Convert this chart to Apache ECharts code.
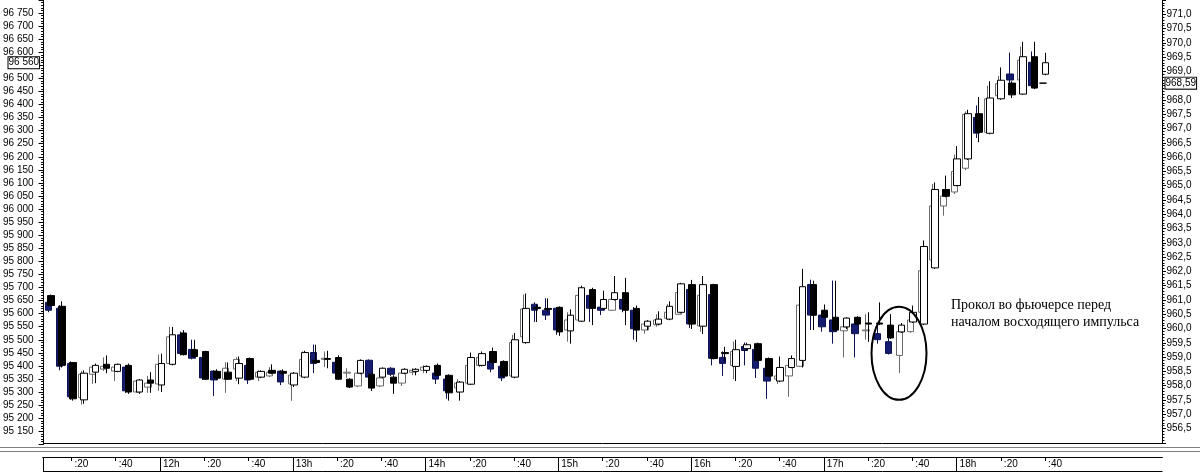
<!DOCTYPE html>
<html><head><meta charset="utf-8">
<script src="https://cdn.jsdelivr.net/npm/echarts@6/dist/echarts.min.js"></script>
<style>html,body{margin:0;padding:0;background:#fff;overflow:hidden}#c{width:1200px;height:473px}</style>
</head><body><div id="c"></div>
<script>
// ---- data ----
const times = [
 "11:10","11:15","11:20","11:25","11:30","11:35","11:40","11:45","11:50","11:55",
 "12:00","12:05","12:10","12:15","12:20","12:25","12:30","12:35","12:40","12:45","12:50","12:55",
 "13:00","13:05","13:10","13:15","13:20","13:25","13:30","13:35","13:40","13:45","13:50","13:55",
 "14:00","14:05","14:10","14:15","14:20","14:25","14:30","14:35","14:40","14:45","14:50","14:55",
 "15:00","15:05","15:10","15:15","15:20","15:25","15:30","15:35","15:40","15:45","15:50","15:55",
 "16:00","16:05","16:10","16:15","16:20","16:25","16:30","16:35","16:40","16:45","16:50","16:55",
 "17:00","17:05","17:10","17:15","17:20","17:25","17:30","17:35","17:40","17:45","17:50","17:55",
 "18:00","18:05","18:10","18:15","18:20","18:25","18:30","18:35","18:40"];

// index (left axis)
const idxOpen = [95669,95628,95413,95270,95376,95406,95379,95402,95300,95346,
 95327,95406,95526,95462,95455,95379,95376,95353,95428,95357,95383,95379,
 95327,95357,95421,95428,95432,95349,95372,95368,95357,95357,95372,95379,
 95383,95402,95364,95300,95330,95402,95455,95417,95357,95489,95624,95620,
 95624,95534,95571,95692,95620,95654,95680,95620,95552,95560,95579,95605,
 95711,95552,95711,95451,95398,95466,95485,95428,95342,95394,95421,95711,
 95613,95586,95549,95586,95564,95564,95556,95530,95568,95560,95775,96075,
 96090,96192,96365,96290,96422,96482,96440,96583,96516];
const idxClose = [95631,95402,95274,95372,95402,95391,95406,95300,95346,95334,
 95409,95519,95443,95436,95349,95353,95349,95409,95349,95379,95372,95372,
 95372,95451,95413,95425,95349,95319,95421,95315,95391,95334,95387,95387,
 95398,95364,95297,95338,95432,95447,95413,95361,95500,95620,95620,95616,
 95530,95594,95699,95620,95654,95680,95613,95537,95571,95579,95628,95714,
 95560,95711,95428,95447,95462,95481,95421,95361,95394,95428,95703,95594,
 95586,95537,95583,95560,95560,95560,95507,95556,95605,95857,96075,96049,
 96192,96365,96294,96425,96493,96437,96583,96463,96560];
const idxLow = [95628,95394,95267,95255,95334,95372,95376,95293,95293,95297,
 95300,95402,95440,95432,95346,95346,95346,95330,95346,95353,95368,95364,
 95319,95353,95409,95391,95346,95315,95368,95304,95353,95293,95368,95364,
 95372,95361,95267,95267,95327,95398,95409,95357,95353,95485,95568,95605,
 95515,95485,95568,95556,95616,95650,95556,95492,95537,95556,95575,95601,
 95541,95522,95425,95417,95342,95458,95417,95357,95338,95391,95394,95537,
 95583,95534,95541,95556,95492,95556,95503,95526,95564,95556,95771,96045,
 96087,96188,96256,96286,96418,96425,96437,96459,96512];
const idxHigh = [95673,95647,95413,95383,95409,95440,95409,95409,95349,95376,
 95447,95549,95537,95500,95458,95387,95413,95436,95432,95383,95406,95387,
 95376,95458,95481,95458,95440,95353,95425,95372,95394,95364,95391,95391,
 95402,95409,95368,95342,95451,95455,95470,95421,95526,95677,95635,95658,
 95628,95616,95707,95699,95688,95744,95737,95631,95575,95609,95647,95718,
 95729,95744,95714,95473,95500,95489,95489,95432,95436,95440,95771,95726,
 95635,95726,95586,95590,95605,95643,95598,95564,95631,95880,96102,96128,
 96241,96380,96429,96489,96542,96489,96640,96640,96598];

// futures (right axis)
const futOpen = [960.92,960.71,958.78,957.58,958.40,958.58,958.51,958.65,957.78,957.95,
 958.06,958.78,959.78,959.27,958.99,958.51,958.23,958.58,958.71,958.30,958.34,958.51,
 958.06,958.34,959.16,958.92,958.82,958.44,957.99,958.89,957.99,958.61,958.09,958.47,
 958.54,958.44,958.23,957.92,958.09,958.71,958.85,958.68,958.34,959.71,960.85,960.64,
 960.71,959.95,960.30,961.16,960.75,960.64,961.02,960.64,959.95,960.13,960.36,960.50,
 961.37,960.09,961.19,958.99,958.71,959.37,959.27,958.61,958.23,958.34,958.68,961.54,
 960.47,960.30,959.92,960.16,959.92,959.82,959.54,959.06,959.89,960.57,962.40,964.29,
 964.78,965.61,967.39,966.87,968.15,968.91,968.70,969.32,968.59];
const futClose = [960.64,958.68,957.61,958.40,958.65,958.68,958.65,957.82,958.16,958.09,
 958.75,959.71,959.13,958.96,958.27,958.20,958.61,958.92,958.20,958.47,958.47,958.13,
 958.37,958.92,958.78,958.96,958.44,958.47,958.44,958.30,958.27,958.40,958.44,958.54,
 958.65,958.23,957.82,958.09,958.71,958.99,958.58,958.27,959.51,960.68,960.64,960.47,
 959.95,960.30,961.16,960.71,960.64,961.02,960.68,959.99,960.16,960.30,960.57,961.26,
 960.16,961.16,958.96,958.78,959.20,959.23,958.61,958.16,958.34,958.71,960.82,960.47,
 960.06,959.89,960.06,959.82,959.95,959.61,959.13,959.89,960.30,962.02,964.29,964.64,
 965.50,967.50,966.84,968.04,968.57,968.70,969.39,968.50,968.59];
const futLow = [960.57,958.54,957.51,957.34,958.06,958.51,958.16,957.75,957.75,957.75,
 957.82,958.75,959.06,958.92,958.20,957.64,957.75,958.16,958.06,958.16,958.30,958.02,
 957.47,958.30,958.44,958.65,958.37,958.27,957.95,958.23,957.95,958.34,957.99,958.37,
 958.44,958.06,957.54,957.75,958.06,958.65,958.47,958.16,958.30,959.68,960.23,960.30,
 959.78,959.54,960.26,960.23,960.47,960.61,960.57,959.61,959.82,960.06,960.30,960.47,
 960.02,959.89,958.71,958.34,958.23,958.71,958.27,957.54,958.06,957.61,958.65,959.95,
 959.89,959.47,958.99,958.99,959.61,959.47,959.09,958.44,959.85,960.50,962.37,963.95,
 964.71,965.54,966.67,966.84,968.08,968.57,968.63,968.43,968.59];
const futHigh = [960.95,960.82,958.85,958.51,958.71,958.99,958.71,958.71,958.20,958.34,
 959.09,960.06,959.89,959.61,959.13,958.54,958.82,958.99,958.78,958.54,958.65,958.54,
 958.44,959.20,959.44,959.20,958.92,958.61,958.47,958.92,958.30,958.65,958.47,958.61,
 958.71,958.51,958.30,958.23,958.99,959.13,958.92,958.75,959.78,961.19,960.92,961.06,
 960.75,960.57,961.44,961.26,960.92,961.26,961.26,960.75,960.23,960.50,960.85,961.44,
 961.51,961.51,961.26,959.20,959.54,959.51,959.33,958.68,958.51,958.85,961.26,961.71,
 960.57,961.68,960.23,960.23,960.50,960.16,959.71,959.95,960.36,962.09,965.06,964.88,
 966.09,967.60,967.81,968.50,968.84,969.66,969.87,969.70,968.59];

const annotationText = ['Прокол во фьючерсе перед', 'началом восходящего импульса'];

// ---- helpers ----
const toMin = s => { const p = s.split(':'); return (+p[0]) * 60 + (+p[1]); };
const fmtLeft = v => Math.floor(v / 1000) + ' ' + String(Math.round(v % 1000)).padStart(3, '0');
const fmtRight = (v, d) => v.toFixed(d).replace('.', ',');
const AXF = "'Liberation Sans',Arial,sans-serif";
const AXS = 10;

const idxData = times.map((t, i) => [toMin(t), idxOpen[i], idxClose[i], idxLow[i], idxHigh[i]]);
const futData = times.map((t, i) => [toMin(t), futOpen[i], futClose[i], futLow[i], futHigh[i]]);
const lastIdx = idxClose[idxClose.length - 1];
const lastFut = futClose[futClose.length - 1];
const lastTime = toMin(times[times.length - 1]);

// time strip categories (one per minute)
const stripCats = [];
for (let m = 667; m <= 1173; m++) stripCats.push(String(m));
const onStrip = v => (+v) <= lastTime;

const chart = echarts.init(document.getElementById('c'), null, { renderer: 'canvas', width: 1200, height: 473 });

const boxLabel = {
  show: true,
  fontFamily: AXF, fontSize: AXS, color: '#000', backgroundColor: '#fff',
  borderColor: '#000', borderWidth: 1, padding: [1, 0, 0, 0], opacity: 1
};

chart.setOption({
  animation: false,
  backgroundColor: '#fff',
  grid: [
    { left: 43.3, width: 1118.7, top: -7.6, height: 451.9 },
    { left: 43.3, width: 1118.7, top: -7.2, height: 450 },
    { left: 42.7, width: 1119.7, top: 457, height: 15 }
  ],
  xAxis: [
    { gridIndex: 0, type: 'value', min: 666.61, max: 1172.8, show: false },
    { gridIndex: 1, type: 'value', min: 667.65, max: 1173.84,
      axisLine: { show: true, onZero: false, lineStyle: { color: '#000', width: 1 } },
      axisTick: { show: false }, axisLabel: { show: false }, splitLine: { show: false } },
    { gridIndex: 2, type: 'category', data: stripCats, boundaryGap: false, position: 'top',
      axisLine: { show: true, onZero: false, lineStyle: { color: '#000', width: 1 } },
      axisTick: { show: true, inside: true, length: 4,
        interval: (i, v) => onStrip(v) && (+v) % 20 === 0 && (+v) % 60 !== 0,
        lineStyle: { color: '#000', width: 1 } },
      splitLine: { show: true, interval: (i, v) => onStrip(v) && (+v) % 60 === 0,
        lineStyle: { color: '#000', width: 1 } },
      axisLabel: { show: true, inside: true, interval: (i, v) => onStrip(v) && (+v) % 20 === 0,
        formatter: v => ((+v) % 60 === 0 ? ((+v) / 60) + 'h' : ':' + ((+v) % 60)),
        align: 'left', verticalAlign: 'middle', margin: 7, padding: [0, 0, 0, 3],
        fontFamily: AXF, fontSize: AXS, color: '#000' } }
  ],
  yAxis: [
    { gridIndex: 0, type: 'value', position: 'left', min: 95100, max: 96800, interval: 50,
      axisLine: { show: true, lineStyle: { color: '#000', width: 1 } },
      axisTick: { show: true, length: 5, lineStyle: { color: '#000' } },
      minorTick: { show: true, splitNumber: 5, length: 2.5, lineStyle: { color: '#000' } },
      splitLine: { show: false },
      axisLabel: { margin: 10, fontFamily: AXF, fontSize: AXS, color: '#000',
        formatter: v => (v < 95140 || v > 96760 || Math.abs(v - lastIdx) < 20) ? '' : fmtLeft(v) } },
    { gridIndex: 1, type: 'value', position: 'right', min: 956, max: 971.5, interval: 0.5,
      axisLine: { show: true, lineStyle: { color: '#000', width: 1 } },
      axisTick: { show: true, length: 4, lineStyle: { color: '#000' } },
      minorTick: { show: true, splitNumber: 5, length: 2.5, lineStyle: { color: '#000' } },
      splitLine: { show: false },
      axisLabel: { margin: 4.5, fontFamily: AXF, fontSize: AXS, color: '#000',
        formatter: v => (v < 956.4 || v > 971.1 || Math.abs(v - lastFut) < 0.2) ? '' : fmtRight(v, 1) } },
    { gridIndex: 2, type: 'value', show: false }
  ],
  series: [
    { name: 'futures', type: 'candlestick', xAxisIndex: 1, yAxisIndex: 1, data: futData, barWidth: 7,
      itemStyle: { color: '#ffffff', color0: '#141c70', borderColor: '#6a6a6a', borderColor0: '#0e1250',
        borderColorDoji: '#000', borderWidth: 1 },
      markLine: { silent: true, symbol: 'none', animation: false, z: 50,
        lineStyle: { color: 'rgba(0,0,0,0)', width: 1, type: 'solid' },
        label: Object.assign({}, boxLabel, { position: 'end', distance: 3.5, formatter: () => fmtRight(lastFut, 2) }),
        data: [{ yAxis: lastFut }] } },
    { name: 'index', type: 'candlestick', xAxisIndex: 0, yAxisIndex: 0, data: idxData, barWidth: 7,
      itemStyle: { color: '#ffffff', color0: '#000000', borderColor: '#000000', borderColor0: '#000000',
        borderColorDoji: '#000', borderWidth: 1 },
      markLine: { silent: true, symbol: 'none', animation: false, z: 50,
        lineStyle: { color: 'rgba(0,0,0,0)', width: 1, type: 'solid' },
        label: Object.assign({}, boxLabel, { position: 'start', distance: 4.5, formatter: () => fmtLeft(lastIdx) }),
        data: [{ yAxis: lastIdx }] } }
  ],
  graphic: [
    { type: 'line', silent: true, shape: { x1: 0, y1: 447.5, x2: 1200, y2: 447.5 }, style: { stroke: '#808080', lineWidth: 1 } },
    { type: 'line', silent: true, shape: { x1: 0, y1: 451.5, x2: 1200, y2: 451.5 }, style: { stroke: '#808080', lineWidth: 1 } },
    { type: 'line', silent: true, shape: { x1: 43, y1: 471.5, x2: 1162.5, y2: 471.5 }, style: { stroke: '#000', lineWidth: 1 } },
    { type: 'line', silent: true, shape: { x1: 43.5, y1: 457, x2: 43.5, y2: 472 }, style: { stroke: '#000', lineWidth: 1 } },
    { type: 'ellipse', silent: true, z: 100, shape: { cx: 899, cy: 353.3, rx: 27.5, ry: 46.5 },
      style: { fill: 'none', stroke: '#000', lineWidth: 2 } },
    { type: 'text', silent: true, z: 100, left: 951, top: 296.5,
      style: { text: annotationText.join('\n'), font: "14px 'Liberation Serif','Times New Roman',serif",
        fill: '#000', lineHeight: 17 } }
  ]
});
</script></body></html>
